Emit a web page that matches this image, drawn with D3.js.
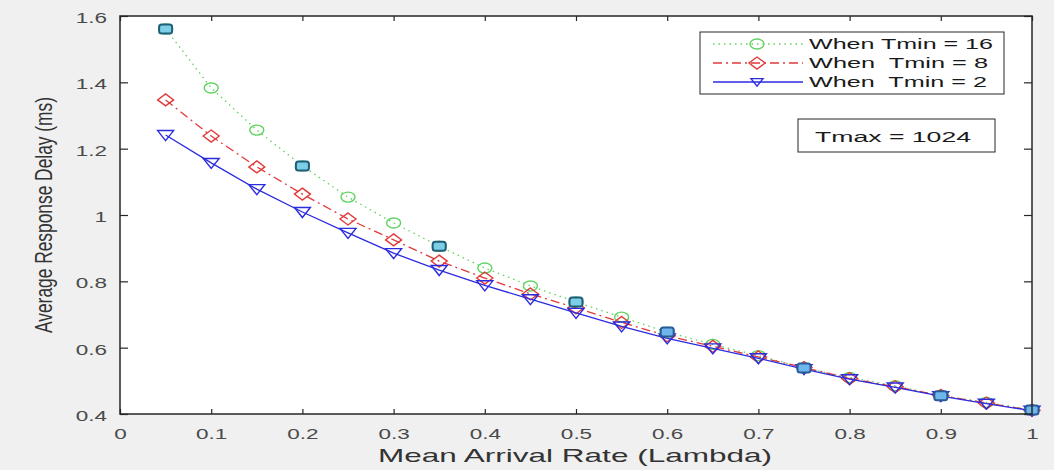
<!DOCTYPE html>
<html><head><meta charset="utf-8">
<script src="https://cdn.jsdelivr.net/npm/d3@7/dist/d3.min.js"></script>
<style>body{margin:0;background:#f0f0f0}svg{display:block}</style>
</head><body>
<svg id="c" width="1054" height="470"></svg>
<script>
const lambda = [0.05,0.1,0.15,0.2,0.25,0.3,0.35,0.4,0.45,0.5,0.55,0.6,0.65,0.7,0.75,0.8,0.85,0.9,0.95,1.0];
const tmin16 = [1.561,1.383,1.256,1.148,1.054,0.976,0.906,0.840,0.786,0.738,0.692,0.647,0.610,0.576,0.539,0.510,0.485,0.455,0.435,0.412];
const tmin8  = [1.347,1.238,1.145,1.063,0.988,0.925,0.861,0.810,0.762,0.720,0.676,0.636,0.604,0.572,0.540,0.507,0.482,0.456,0.433,0.411];
const tmin2  = [1.241,1.157,1.078,1.009,0.946,0.885,0.834,0.788,0.746,0.705,0.664,0.628,0.598,0.568,0.535,0.505,0.480,0.454,0.431,0.410];
// points of the Tmin=16 series that show the bluish square marker in the reference
const squareIdx = [0,3,6,9,11,14,17,19];
const xTicks = [0,0.1,0.2,0.3,0.4,0.5,0.6,0.7,0.8,0.9,1];
const xTickLabels = ["0","0.1","0.2","0.3","0.4","0.5","0.6","0.7","0.8","0.9","1"];
const yTicks = [0.4,0.6,0.8,1.0,1.2,1.4,1.6];
const yTickLabels = ["0.4","0.6","0.8","1","1.2","1.4","1.6"];
const seriesNames = ["When Tmin = 16","When  Tmin = 8","When  Tmin = 2"];
const xTitle = "Mean Arrival Rate (Lambda)";
const yTitle = "Average Response Delay (ms)";
const note = "Tmax = 1024";

const L=120,R=1032,T=16,B=414;
const svg=d3.select("#c");
const FONT="'Liberation Sans', Arial, Helvetica, sans-serif";
const TICK="#4a4a4a", TXT="#333333";
const SX=1.5;

svg.append("rect").attr("width",1054).attr("height",470).attr("fill","#f0f0f0");
svg.append("rect").attr("x",L).attr("y",T).attr("width",R-L).attr("height",B-T).attr("fill","#fff");

const x=d3.scaleLinear().domain([0,1]).range([L,R]);
const y=d3.scaleLinear().domain([0.4,1.6]).range([B,T]);

// axes
const gx=svg.append("g").attr("transform",`translate(0,${B})`)
  .call(d3.axisBottom(x).tickValues(xTicks).tickFormat((d,i)=>xTickLabels[i]).tickSize(-5).tickPadding(14));
const gy=svg.append("g").attr("transform",`translate(${L},0)`)
  .call(d3.axisLeft(y).tickValues(yTicks).tickFormat((d,i)=>yTickLabels[i]).tickSize(-8).tickPadding(0));
const gt=svg.append("g").attr("transform",`translate(0,${T})`)
  .call(d3.axisTop(x).tickValues(xTicks).tickFormat("").tickSize(-5));
const gr=svg.append("g").attr("transform",`translate(${R},0)`)
  .call(d3.axisRight(y).tickValues(yTicks).tickFormat("").tickSize(-8));
[gx,gy,gt,gr].forEach(g=>{
  g.select(".domain").remove();
  g.selectAll(".tick line").attr("stroke","#262626").attr("stroke-width",1.2);
});
gx.selectAll(".tick text").attr("font-family",FONT).attr("font-size",15).attr("fill",TICK)
  .attr("transform",`scale(${SX},1)`);
gy.selectAll(".tick text").attr("font-family",FONT).attr("font-size",15).attr("fill",TICK)
  .attr("x",0).attr("dy","0.36em").attr("transform",`translate(-13,1) scale(${SX},1)`);

// titles
svg.append("text").attr("x",575).attr("y",462).attr("text-anchor","middle")
  .attr("font-family",FONT).attr("font-size",19).attr("fill",TXT)
  .attr("textLength",394).attr("lengthAdjust","spacingAndGlyphs").text(xTitle);
svg.append("text").attr("transform",`translate(43,215) scale(1.45,1) rotate(-90)`)
  .attr("text-anchor","middle").attr("dy","0.35em")
  .attr("font-family",FONT).attr("font-size",17).attr("fill",TXT)
  .attr("textLength",236).attr("lengthAdjust","spacingAndGlyphs").text(yTitle);

// series
const styles=[
  {data:tmin16,color:"#5fd35f",dash:"1.5,4",w:1.3,marker:"circle"},
  {data:tmin8,color:"#e23a3a",dash:"9,4,2,4",w:1.3,marker:"diamond"},
  {data:tmin2,color:"#2b2be0",dash:null,w:1.3,marker:"tri"}
];
const line=d3.line().x(d=>x(d[0])).y(d=>y(d[1]));
function marker(g,type,cx,cy,color,s){
  if(type==="circle"){
    g.append("ellipse").attr("cx",cx).attr("cy",cy).attr("rx",7*s).attr("ry",5*s)
      .attr("fill","none").attr("stroke",color).attr("stroke-width",1.4);
  }else if(type==="diamond"){
    const p=[[cx,cy-6*s],[cx+8*s,cy],[cx,cy+6*s],[cx-8*s,cy]];
    g.append("path").attr("d","M"+p.join("L")+"Z").attr("fill","none").attr("stroke",color).attr("stroke-width",1.4);
  }else{
    const p=[[cx-8*s,cy-4.5*s],[cx+8*s,cy-4.5*s],[cx,cy+5.5*s]];
    g.append("path").attr("d","M"+p.join("L")+"Z").attr("fill","none").attr("stroke",color).attr("stroke-width",1.4);
  }
}
const plot=svg.append("g");
styles.forEach(st=>{
  const pts=lambda.map((l,i)=>[l,st.data[i]]);
  plot.append("path").attr("d",line(pts)).attr("fill","none").attr("stroke",st.color)
    .attr("stroke-width",st.w).attr("stroke-dasharray",st.dash);
  pts.forEach(p=>marker(plot,st.marker,x(p[0]),y(p[1]),st.color,1));
});
// bluish square markers on the Tmin=16 series
squareIdx.forEach((i,k)=>{
  const cx=x(lambda[i]),cy=y(tmin16[i]);
  plot.append("rect").attr("x",cx-6.5).attr("y",cy-4.5).attr("width",13).attr("height",9)
    .attr("rx",2.5).attr("fill",k<4?"#7ccfe6":"#6fb6ea").attr("stroke",k<4?"#1f5f78":"#2a5a9a").attr("stroke-width",2);
});

// box
svg.append("rect").attr("x",L).attr("y",T).attr("width",R-L).attr("height",B-T)
  .attr("fill","none").attr("stroke","#262626").attr("stroke-width",1.5);

// legend
svg.append("rect").attr("x",700).attr("y",32).attr("width",304).attr("height",62)
  .attr("fill","#fff").attr("stroke","#262626").attr("stroke-width",1);
const legY=[44,63,82], legW=[184,179,178];
styles.forEach((st,i)=>{
  svg.append("line").attr("x1",713).attr("x2",803).attr("y1",legY[i]).attr("y2",legY[i])
    .attr("stroke",st.color).attr("stroke-width",st.w).attr("stroke-dasharray",st.dash);
  marker(svg,st.marker,757,legY[i],st.color,i===2?0.75:1);
  svg.append("text").attr("x",809).attr("y",legY[i]).attr("dy","0.36em")
    .attr("font-family",FONT).attr("font-size",14.5).attr("fill","#1a1a1a")
    .attr("xml:space","preserve").style("white-space","pre")
    .attr("textLength",legW[i]).attr("lengthAdjust","spacingAndGlyphs").text(seriesNames[i]);
});

// annotation
svg.append("rect").attr("x",798).attr("y",119).attr("width",197).attr("height",33)
  .attr("fill","#fff").attr("stroke","#262626").attr("stroke-width",1);
svg.append("text").attr("x",815).attr("y",136).attr("dy","0.36em")
  .attr("font-family",FONT).attr("font-size",15.5).attr("fill","#1a1a1a")
  .attr("textLength",156).attr("lengthAdjust","spacingAndGlyphs").text(note);
</script>
</body></html>
